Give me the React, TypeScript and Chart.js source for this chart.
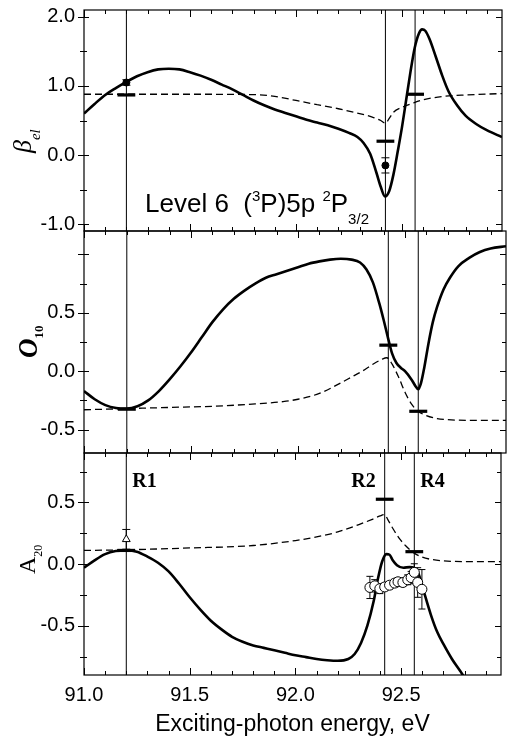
import React, { useEffect, useRef } from 'react';
import { Chart, registerables } from 'chart.js';
Chart.register(...registerables);

const W = 507;
const H = 738;

// ---- shared x axis ----
const xRange = [91.0, 92.972];
const xMajorTicks = [91.0, 91.5, 92.0, 92.5];
const xMinorTicks = [91.1, 91.2, 91.3, 91.4, 91.6, 91.7, 91.8, 91.9, 92.1, 92.2, 92.3, 92.4, 92.6, 92.7, 92.8, 92.9];
const xTitle = 'Exciting-photon energy, eV';

const resonanceX = [91.2, 92.422, 92.562];
const resonanceLabels = ['R1', 'R2', 'R4'];
const barHalfWidth = 0.042;

// ---- top panel: beta_el ----
const betaSolidX = [91.0, 91.05, 91.1, 91.15, 91.2, 91.25, 91.3, 91.35, 91.4, 91.45, 91.5, 91.55, 91.6, 91.65, 91.7, 91.75, 91.8, 91.85, 91.9, 91.95, 92.0, 92.05, 92.1, 92.15, 92.2, 92.25, 92.29, 92.32, 92.35, 92.38, 92.4, 92.42, 92.44, 92.46, 92.48, 92.5, 92.52, 92.54, 92.56, 92.58, 92.595, 92.61, 92.63, 92.66, 92.69, 92.72, 92.76, 92.8, 92.85, 92.9, 92.972];
const betaSolidY = [0.6, 0.74, 0.87, 0.97, 1.06, 1.14, 1.2, 1.24, 1.25, 1.24, 1.2, 1.15, 1.09, 1.02, 0.95, 0.87, 0.79, 0.72, 0.66, 0.61, 0.56, 0.51, 0.47, 0.43, 0.38, 0.32, 0.26, 0.17, 0.02, -0.26, -0.46, -0.6, -0.52, -0.28, 0.05, 0.4, 0.8, 1.2, 1.55, 1.76, 1.82, 1.8, 1.68, 1.42, 1.15, 0.92, 0.72, 0.57, 0.45, 0.36, 0.26];
const betaDashX = [91.0, 91.5, 91.8, 91.9, 92.0, 92.1, 92.2, 92.3, 92.36, 92.4, 92.422, 92.44, 92.46, 92.5, 92.55, 92.6, 92.7, 92.8, 92.972];
const betaDashY = [0.88, 0.88, 0.875, 0.85, 0.79, 0.73, 0.67, 0.6, 0.55, 0.5, 0.46, 0.53, 0.62, 0.69, 0.75, 0.8, 0.85, 0.87, 0.89];
const betaBarY = [0.87, 0.2, 0.88];
const betaExpX = [91.2, 92.422];
const betaExpY = [1.05, -0.15];
const betaExpErr = [0.04, 0.11];
const betaYMajor = [-1, 0, 1, 2];
const betaYMinor = [-0.5, 0.5, 1.5];

// ---- middle panel: O10 ----
const oSolidX = [91.0, 91.05, 91.1, 91.15, 91.2, 91.25, 91.3, 91.35, 91.4, 91.45, 91.5, 91.55, 91.6, 91.65, 91.7, 91.75, 91.8, 91.85, 91.9, 91.95, 92.0, 92.05, 92.1, 92.15, 92.2, 92.25, 92.29, 92.32, 92.35, 92.38, 92.4, 92.42, 92.44, 92.46, 92.48, 92.5, 92.53, 92.55, 92.562, 92.575, 92.59, 92.61, 92.63, 92.65, 92.68, 92.71, 92.75, 92.8, 92.85, 92.9, 92.972];
const oSolidY = [-0.17, -0.24, -0.29, -0.315, -0.32, -0.3, -0.25, -0.17, -0.07, 0.04, 0.16, 0.29, 0.42, 0.53, 0.62, 0.69, 0.75, 0.8, 0.83, 0.86, 0.89, 0.92, 0.94, 0.955, 0.962, 0.955, 0.93, 0.87, 0.76, 0.58, 0.44, 0.29, 0.15, 0.07, 0.03, 0.0, -0.07, -0.13, -0.155, -0.1, 0.03, 0.24, 0.42, 0.55, 0.7, 0.8, 0.9, 0.97, 1.02, 1.05, 1.07];
const oDashX = [91.0, 91.2, 91.4, 91.6, 91.8, 91.93, 92.0, 92.1, 92.2, 92.25, 92.3, 92.35, 92.39, 92.415, 92.44, 92.47, 92.5, 92.53, 92.56, 92.6, 92.65, 92.7, 92.8, 92.972];
const oDashY = [-0.33, -0.32, -0.31, -0.3, -0.28, -0.26, -0.24, -0.19, -0.1, -0.05, 0.0, 0.06, 0.1, 0.115, 0.06, -0.05, -0.18, -0.28, -0.34, -0.38, -0.405, -0.415, -0.42, -0.42];
const oBarY = [-0.325, 0.223, -0.343];
const oYMajor = [-0.5, 0, 0.5, 1.0];
const oYMinor = [-0.25, 0.25, 0.75];

// ---- bottom panel: A20 ----
const aSolidX = [91.0, 91.05, 91.1, 91.15, 91.2, 91.25, 91.3, 91.35, 91.4, 91.45, 91.5, 91.55, 91.6, 91.65, 91.7, 91.75, 91.8, 91.85, 91.9, 91.95, 92.0, 92.05, 92.1, 92.15, 92.2, 92.25, 92.28, 92.31, 92.34, 92.37, 92.39, 92.41, 92.43, 92.445, 92.46, 92.48, 92.51, 92.54, 92.56, 92.575, 92.59, 92.61, 92.64, 92.67, 92.7, 92.74, 92.78, 92.8, 92.85];
const aSolidY = [-0.03, 0.03, 0.08, 0.105, 0.11, 0.1, 0.06, 0.01, -0.06, -0.16, -0.27, -0.37, -0.46, -0.53, -0.59, -0.63, -0.66, -0.68, -0.7, -0.72, -0.74, -0.755, -0.77, -0.78, -0.785, -0.77, -0.73, -0.64, -0.5, -0.3, -0.12, 0.02, 0.08, 0.075, 0.03, -0.01, -0.03, -0.025, -0.03, -0.05, -0.12, -0.24, -0.41, -0.55, -0.65, -0.77, -0.87, -0.92, -1.0];
const aDashX = [91.0, 91.2, 91.5, 91.8, 92.0, 92.1, 92.2, 92.3, 92.36, 92.4, 92.42, 92.44, 92.46, 92.49, 92.52, 92.56, 92.6, 92.65, 92.7, 92.8, 92.972];
const aDashY = [0.11, 0.115, 0.13, 0.15, 0.19, 0.22, 0.26, 0.32, 0.36, 0.39, 0.4, 0.35, 0.29, 0.21, 0.15, 0.09, 0.055, 0.035, 0.025, 0.02, 0.02];
const aBarY = [0.11, 0.525, 0.1];
const aTriX = [91.2];
const aTriY = [0.2];
const aTriErr = [0.08];
const aCircX = [92.352, 92.375, 92.399, 92.422, 92.445, 92.469, 92.485, 92.508, 92.531, 92.547, 92.562, 92.578, 92.598];
const aCircY = [-0.19, -0.177, -0.2, -0.186, -0.172, -0.155, -0.144, -0.15, -0.128, -0.11, -0.068, -0.15, -0.205];
const aCircErr = [0.09, 0.05, 0.04, 0.03, 0.03, 0.03, 0.03, 0.03, 0.04, 0.05, 0.07, 0.12, 0.16];
const aYMajor = [-0.5, 0, 0.5];
const aYMinor = [-0.75, -0.25, 0.25, 0.75];

const SANS = '"Liberation Sans", Arial, sans-serif';
const SERIF = '"Liberation Serif", "Times New Roman", serif';

type Markers = { x: number[]; y: number[]; err: number[]; style: string; radius: number; fill: string; cap: number };
type Panel = {
  key: string;
  yMin: number; yMax: number; yStep: number;
  yMajor: number[]; yMinor: number[]; yHide: number[];
  padTop: number; padBottom: number; isBottom: boolean;
  solidX: number[]; solidY: number[]; dashX: number[]; dashY: number[];
  barY: number[]; markers: Markers[];
};

const panels: Panel[] = [
  {
    key: 'beta', yMin: -1.1, yMax: 2.1, yStep: 1, yMajor: betaYMajor, yMinor: betaYMinor, yHide: [],
    padTop: 10, padBottom: H - 231, isBottom: false,
    solidX: betaSolidX, solidY: betaSolidY, dashX: betaDashX, dashY: betaDashY, barY: betaBarY,
    markers: [{ x: betaExpX, y: betaExpY, err: betaExpErr, style: 'circle', radius: 3.5, fill: '#000', cap: 4 }],
  },
  {
    key: 'o10', yMin: -0.7, yMax: 1.2, yStep: 0.5, yMajor: oYMajor, yMinor: oYMinor, yHide: [1],
    padTop: 231, padBottom: H - 453, isBottom: false,
    solidX: oSolidX, solidY: oSolidY, dashX: oDashX, dashY: oDashY, barY: oBarY,
    markers: [],
  },
  {
    key: 'a20', yMin: -0.9, yMax: 0.9, yStep: 0.5, yMajor: aYMajor, yMinor: aYMinor, yHide: [],
    padTop: 453, padBottom: 0, isBottom: true,
    solidX: aSolidX, solidY: aSolidY, dashX: aDashX, dashY: aDashY, barY: aBarY,
    markers: [
      { x: aTriX, y: aTriY, err: aTriErr, style: 'triangle', radius: 4.5, fill: '#fff', cap: 4 },
      { x: aCircX, y: aCircY, err: aCircErr, style: 'circle', radius: 5, fill: '#fff', cap: 3.5 },
    ],
  },
];

function pts(xs: number[], ys: number[]) {
  return xs.map((x, i) => ({ x, y: ys[i] }));
}

function drawRotated(ctx: CanvasRenderingContext2D, parts: { t: string; f: string; dy: number }[], bx: number, by: number) {
  ctx.save();
  ctx.translate(bx, by);
  ctx.rotate(-Math.PI / 2);
  ctx.fillStyle = '#000';
  ctx.textAlign = 'left';
  ctx.textBaseline = 'alphabetic';
  let x = 0;
  for (const p of parts) {
    ctx.font = p.f;
    ctx.fillText(p.t, x, p.dy);
    x += ctx.measureText(p.t).width;
  }
  ctx.restore();
}

function makePlugin(p: Panel) {
  return {
    id: 'frame_' + p.key,
    beforeDatasetsDraw(chart: any) {
      const { ctx, scales } = chart;
      const xs = scales.x, ys = scales.y;
      ctx.save();
      ctx.strokeStyle = '#000';
      ctx.lineWidth = 1;
      for (const m of p.markers) {
        m.x.forEach((xv, i) => {
          const px = xs.getPixelForValue(xv);
          const y1 = ys.getPixelForValue(m.y[i] + m.err[i]);
          const y2 = ys.getPixelForValue(m.y[i] - m.err[i]);
          ctx.beginPath();
          ctx.moveTo(px, y1); ctx.lineTo(px, y2);
          ctx.moveTo(px - m.cap, y1); ctx.lineTo(px + m.cap, y1);
          ctx.moveTo(px - m.cap, y2); ctx.lineTo(px + m.cap, y2);
          ctx.stroke();
        });
      }
      ctx.restore();
    },
    afterDraw(chart: any) {
      const { ctx, chartArea: a, scales } = chart;
      const xs = scales.x, ys = scales.y;
      ctx.save();
      ctx.strokeStyle = '#000';
      ctx.lineWidth = 1.2;
      ctx.strokeRect(a.left, a.top, a.right - a.left, a.bottom - a.top);
      ctx.lineWidth = 1;
      ctx.beginPath();
      const xt = (v: number, len: number) => {
        const px = Math.round(xs.getPixelForValue(v)) + 0.5;
        ctx.moveTo(px, a.top); ctx.lineTo(px, a.top + len);
        ctx.moveTo(px, a.bottom); ctx.lineTo(px, a.bottom - len);
      };
      xMajorTicks.forEach((v) => xt(v, 7));
      xMinorTicks.forEach((v) => xt(v, 4));
      const yt = (v: number, out: number, inn: number, rin: number) => {
        const py = Math.round(ys.getPixelForValue(v)) + 0.5;
        ctx.moveTo(a.left - out, py); ctx.lineTo(a.left + inn, py);
        ctx.moveTo(a.right, py); ctx.lineTo(a.right - rin, py);
      };
      p.yMajor.forEach((v) => yt(v, 6, 5, 6));
      p.yMinor.forEach((v) => yt(v, 4, 3, 4));
      ctx.stroke();

      ctx.fillStyle = '#000';
      if (p.key === 'beta') {
        drawRotated(ctx, [
          { t: 'β', f: `italic 26px ${SERIF}`, dy: 0 },
          { t: 'el', f: `italic 15px ${SERIF}`, dy: 9 },
        ], 31, 153);
        const base = 212;
        let x = 145;
        const main = `26px ${SANS}`;
        const small = `15px ${SANS}`;
        const seq: { t: string; f: string; dy: number }[] = [
          { t: 'Level 6  (', f: main, dy: 0 },
          { t: '3', f: small, dy: -11 },
          { t: 'P)5p ', f: main, dy: 0 },
          { t: '2', f: small, dy: -11 },
          { t: 'P', f: main, dy: 0 },
          { t: '3/2', f: small, dy: 12 },
        ];
        ctx.textAlign = 'left';
        ctx.textBaseline = 'alphabetic';
        for (const s of seq) {
          ctx.font = s.f;
          ctx.fillText(s.t, x, base + s.dy);
          x += ctx.measureText(s.t).width;
        }
      } else if (p.key === 'o10') {
        drawRotated(ctx, [
          { t: 'O', f: `italic bold 27px ${SERIF}`, dy: 0 },
          { t: '10', f: `bold 13px ${SERIF}`, dy: 6 },
        ], 37, 358);
      } else {
        drawRotated(ctx, [
          { t: 'A', f: `24px ${SERIF}`, dy: 0 },
          { t: '20', f: `12px ${SERIF}`, dy: 7 },
        ], 35, 574);
        ctx.font = `bold 20px ${SERIF}`;
        ctx.textBaseline = 'alphabetic';
        resonanceX.forEach((rx, i) => {
          const px = xs.getPixelForValue(rx);
          if (resonanceLabels[i] === 'R2') {
            ctx.textAlign = 'right';
            ctx.fillText(resonanceLabels[i], px - 9, 487);
          } else {
            ctx.textAlign = 'left';
            ctx.fillText(resonanceLabels[i], px + 6, 487);
          }
        });
      }
      ctx.restore();
    },
  };
}

function makeChart(canvas: HTMLCanvasElement, p: Panel) {
  const datasets: any[] = [];
  for (const m of p.markers) {
    datasets.push({
      data: pts(m.x, m.y), showLine: false, pointStyle: m.style, pointRadius: m.radius,
      pointBackgroundColor: m.fill, pointBorderColor: '#000', pointBorderWidth: 1,
    });
  }
  resonanceX.forEach((rx, i) => {
    datasets.push({
      data: [{ x: rx - barHalfWidth, y: p.barY[i] }, { x: rx + barHalfWidth, y: p.barY[i] }],
      showLine: true, borderColor: '#000', borderWidth: 3.2, pointRadius: 0,
    });
  });
  datasets.push({
    data: pts(p.solidX, p.solidY), showLine: true, borderColor: '#000', borderWidth: 2.6,
    pointRadius: 0, cubicInterpolationMode: 'monotone',
  });
  datasets.push({
    data: pts(p.dashX, p.dashY), showLine: true, borderColor: '#000', borderWidth: 1.3,
    borderDash: [7, 4], pointRadius: 0, cubicInterpolationMode: 'monotone',
  });
  resonanceX.forEach((rx) => {
    datasets.push({
      data: [{ x: rx, y: p.yMin }, { x: rx, y: p.yMax }],
      showLine: true, borderColor: '#000', borderWidth: 1, pointRadius: 0,
    });
  });

  return new Chart(canvas, {
    type: 'scatter',
    data: { datasets },
    options: {
      responsive: false,
      animation: false,
      events: [],
      layout: { padding: { top: p.padTop, bottom: p.padBottom, left: 0, right: 1 } },
      plugins: { legend: { display: false }, tooltip: { enabled: false } },
      scales: {
        x: {
          type: 'linear', min: xRange[0], max: xRange[1], display: p.isBottom,
          grid: { display: false, drawTicks: false }, border: { display: false },
          ticks: {
            stepSize: 0.5, includeBounds: false, padding: 8, color: '#000', autoSkip: false, maxRotation: 0,
            font: { family: SANS, size: 20 },
            callback: (v: any) => Number(v).toFixed(1),
          },
          title: { display: p.isBottom, text: xTitle, color: '#000', font: { family: SANS, size: 23 }, padding: { top: 0, bottom: 0 } },
          afterFit: (s: any) => { s.height = p.isBottom ? 63 : 0; s.paddingLeft = 0; s.paddingRight = 0; },
        },
        y: {
          type: 'linear', min: p.yMin, max: p.yMax,
          grid: { display: false, drawTicks: false }, border: { display: false },
          ticks: {
            stepSize: p.yStep, includeBounds: false, padding: 9, color: '#000',
            font: { family: SANS, size: 20 },
            callback: (v: any) => (p.yHide.includes(Number(v)) ? '' : Number(v).toFixed(1)),
          },
          afterFit: (s: any) => { s.width = 84; s.paddingTop = 0; s.paddingBottom = 0; },
        },
      },
    },
    plugins: [makePlugin(p)],
  } as any);
}

export default function App() {
  const r0 = useRef<HTMLCanvasElement>(null);
  const r1 = useRef<HTMLCanvasElement>(null);
  const r2 = useRef<HTMLCanvasElement>(null);
  const refs = [r0, r1, r2];
  useEffect(() => {
    document.body.style.margin = '0';
    const charts = panels.map((p, i) => makeChart(refs[i].current as HTMLCanvasElement, p));
    return () => charts.forEach((c) => c.destroy());
  }, []);
  return (
    <div style={{ position: 'relative', width: W, height: H, background: '#fff' }}>
      {panels.map((p, i) => (
        <canvas key={p.key} ref={refs[i]} width={W} height={H} style={{ position: 'absolute', left: 0, top: 0 }} />
      ))}
    </div>
  );
}
